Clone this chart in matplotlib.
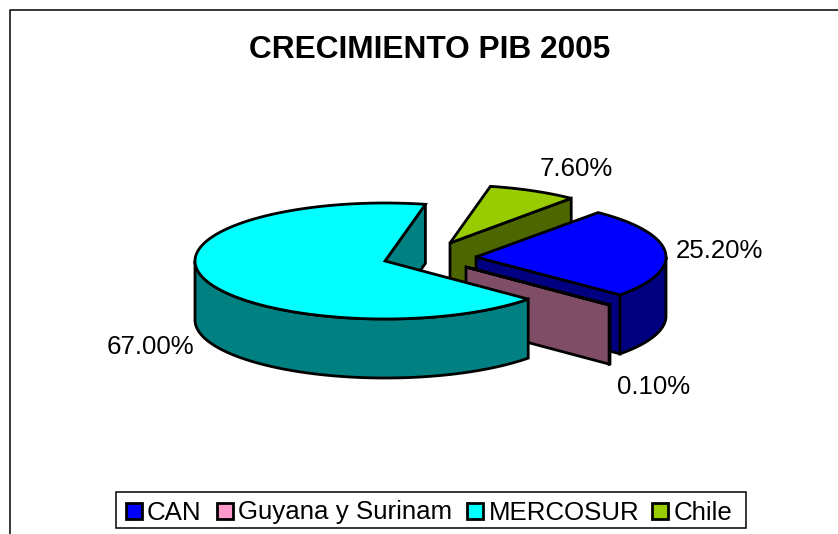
import numpy as np
import matplotlib
matplotlib.use("Agg")
import matplotlib.pyplot as plt
from matplotlib.patches import Rectangle

categorias = ["CAN", "Guyana y Surinam", "MERCOSUR", "Chile"]
valores = [25.2, 0.1, 67.0, 7.6]
etiquetas = ["25.20%", "0.10%", "67.00%", "7.60%"]

colores = ["#0000FF", "#FF99CC", "#00FFFF", "#99CC00"]
oscuros = ["#000080", "#804D66", "#008080", "#4D6600"]

# vertice de cada porcion (separadas del centro), en pixeles de la imagen
centros = [(476, 257), (466, 267), (385, 261), (450, 243)]
pos_etiquetas = [(719, 250.5), (654, 386.5), (150, 346.5), (576, 168.5)]
pos_leyenda = [(126, 148), (217, 239), (467, 490), (652, 675)]

RX, RY, ALTO = 190, 58, 59
INICIO = 50.0
LW = 2.0


def arco(c, t0, t1, dy=0):
    t = np.radians(np.linspace(t0, t1, 200))
    return np.column_stack([c[0] + RX * np.cos(t), c[1] + dy - RY * np.sin(t)])


def dibuja(ax, xy, color, z):
    ax.fill(xy[:, 0], xy[:, 1], facecolor=color, edgecolor="black", lw=LW,
            joinstyle="miter", zorder=z)


def dibuja_porcion(ax, c, t0, t1, claro, oscuro, z):
    # pared radial del final de la porcion
    if np.cos(np.radians(t1)) > 0:
        p = arco(c, t1, t1)[0]
        dibuja(ax, np.array([c, p, (p[0], p[1] + ALTO), (c[0], c[1] + ALTO)]), oscuro, z)
    # pared exterior: solo la parte delantera de la elipse
    for k in range(-1, 1):
        a = max(t1, -180 + 360 * k)
        b = min(t0, 360 * k)
        if a < b:
            sup = arco(c, a, b)
            inf = arco(c, b, a, ALTO)
            dibuja(ax, np.vstack([sup, inf]), oscuro, z + 0.1)
    # cara superior
    dibuja(ax, np.vstack([[c], arco(c, t0, t1)]), claro, z + 0.2)


fig = plt.figure(figsize=(8.38, 5.34), dpi=100)
ax = fig.add_axes([0, 0, 1, 1])
ax.set_xlim(0, 838)
ax.set_ylim(534, 0)
ax.axis("off")
plt.rcParams["font.family"] = ["Liberation Sans", "DejaVu Sans"]

# marco del grafico (abierto a la derecha y abajo)
ax.plot([9.5, 9.5, 838], [534, 9.5, 9.5], color="black", lw=1.1)

ax.text(430, 50, "CRECIMIENTO PIB 2005", fontsize=22.8, fontweight="bold",
        ha="center", va="center")

angulos = INICIO - np.cumsum([0] + valores) * 3.6
orden = [3, 0, 1, 2]
for z, i in enumerate(orden):
    dibuja_porcion(ax, centros[i], angulos[i], angulos[i + 1],
                   colores[i], oscuros[i], 2 + z)

for txt, (x, y) in zip(etiquetas, pos_etiquetas):
    ax.text(x, y, txt, fontsize=18.6, ha="center", va="center", zorder=10)

# leyenda
ax.add_patch(Rectangle((116, 492), 630, 36, facecolor="white", edgecolor="black",
                       lw=1.1, zorder=10))
for nombre, col, (xc, xt) in zip(categorias, colores, pos_leyenda):
    ax.add_patch(Rectangle((xc, 503), 16, 16, facecolor=col, edgecolor="black",
                           lw=2.0, zorder=11))
    ax.text(xt - 1, 512.5, nombre, fontsize=18.6, ha="left", va="center", zorder=11)

fig.savefig("out.png", dpi=100)
